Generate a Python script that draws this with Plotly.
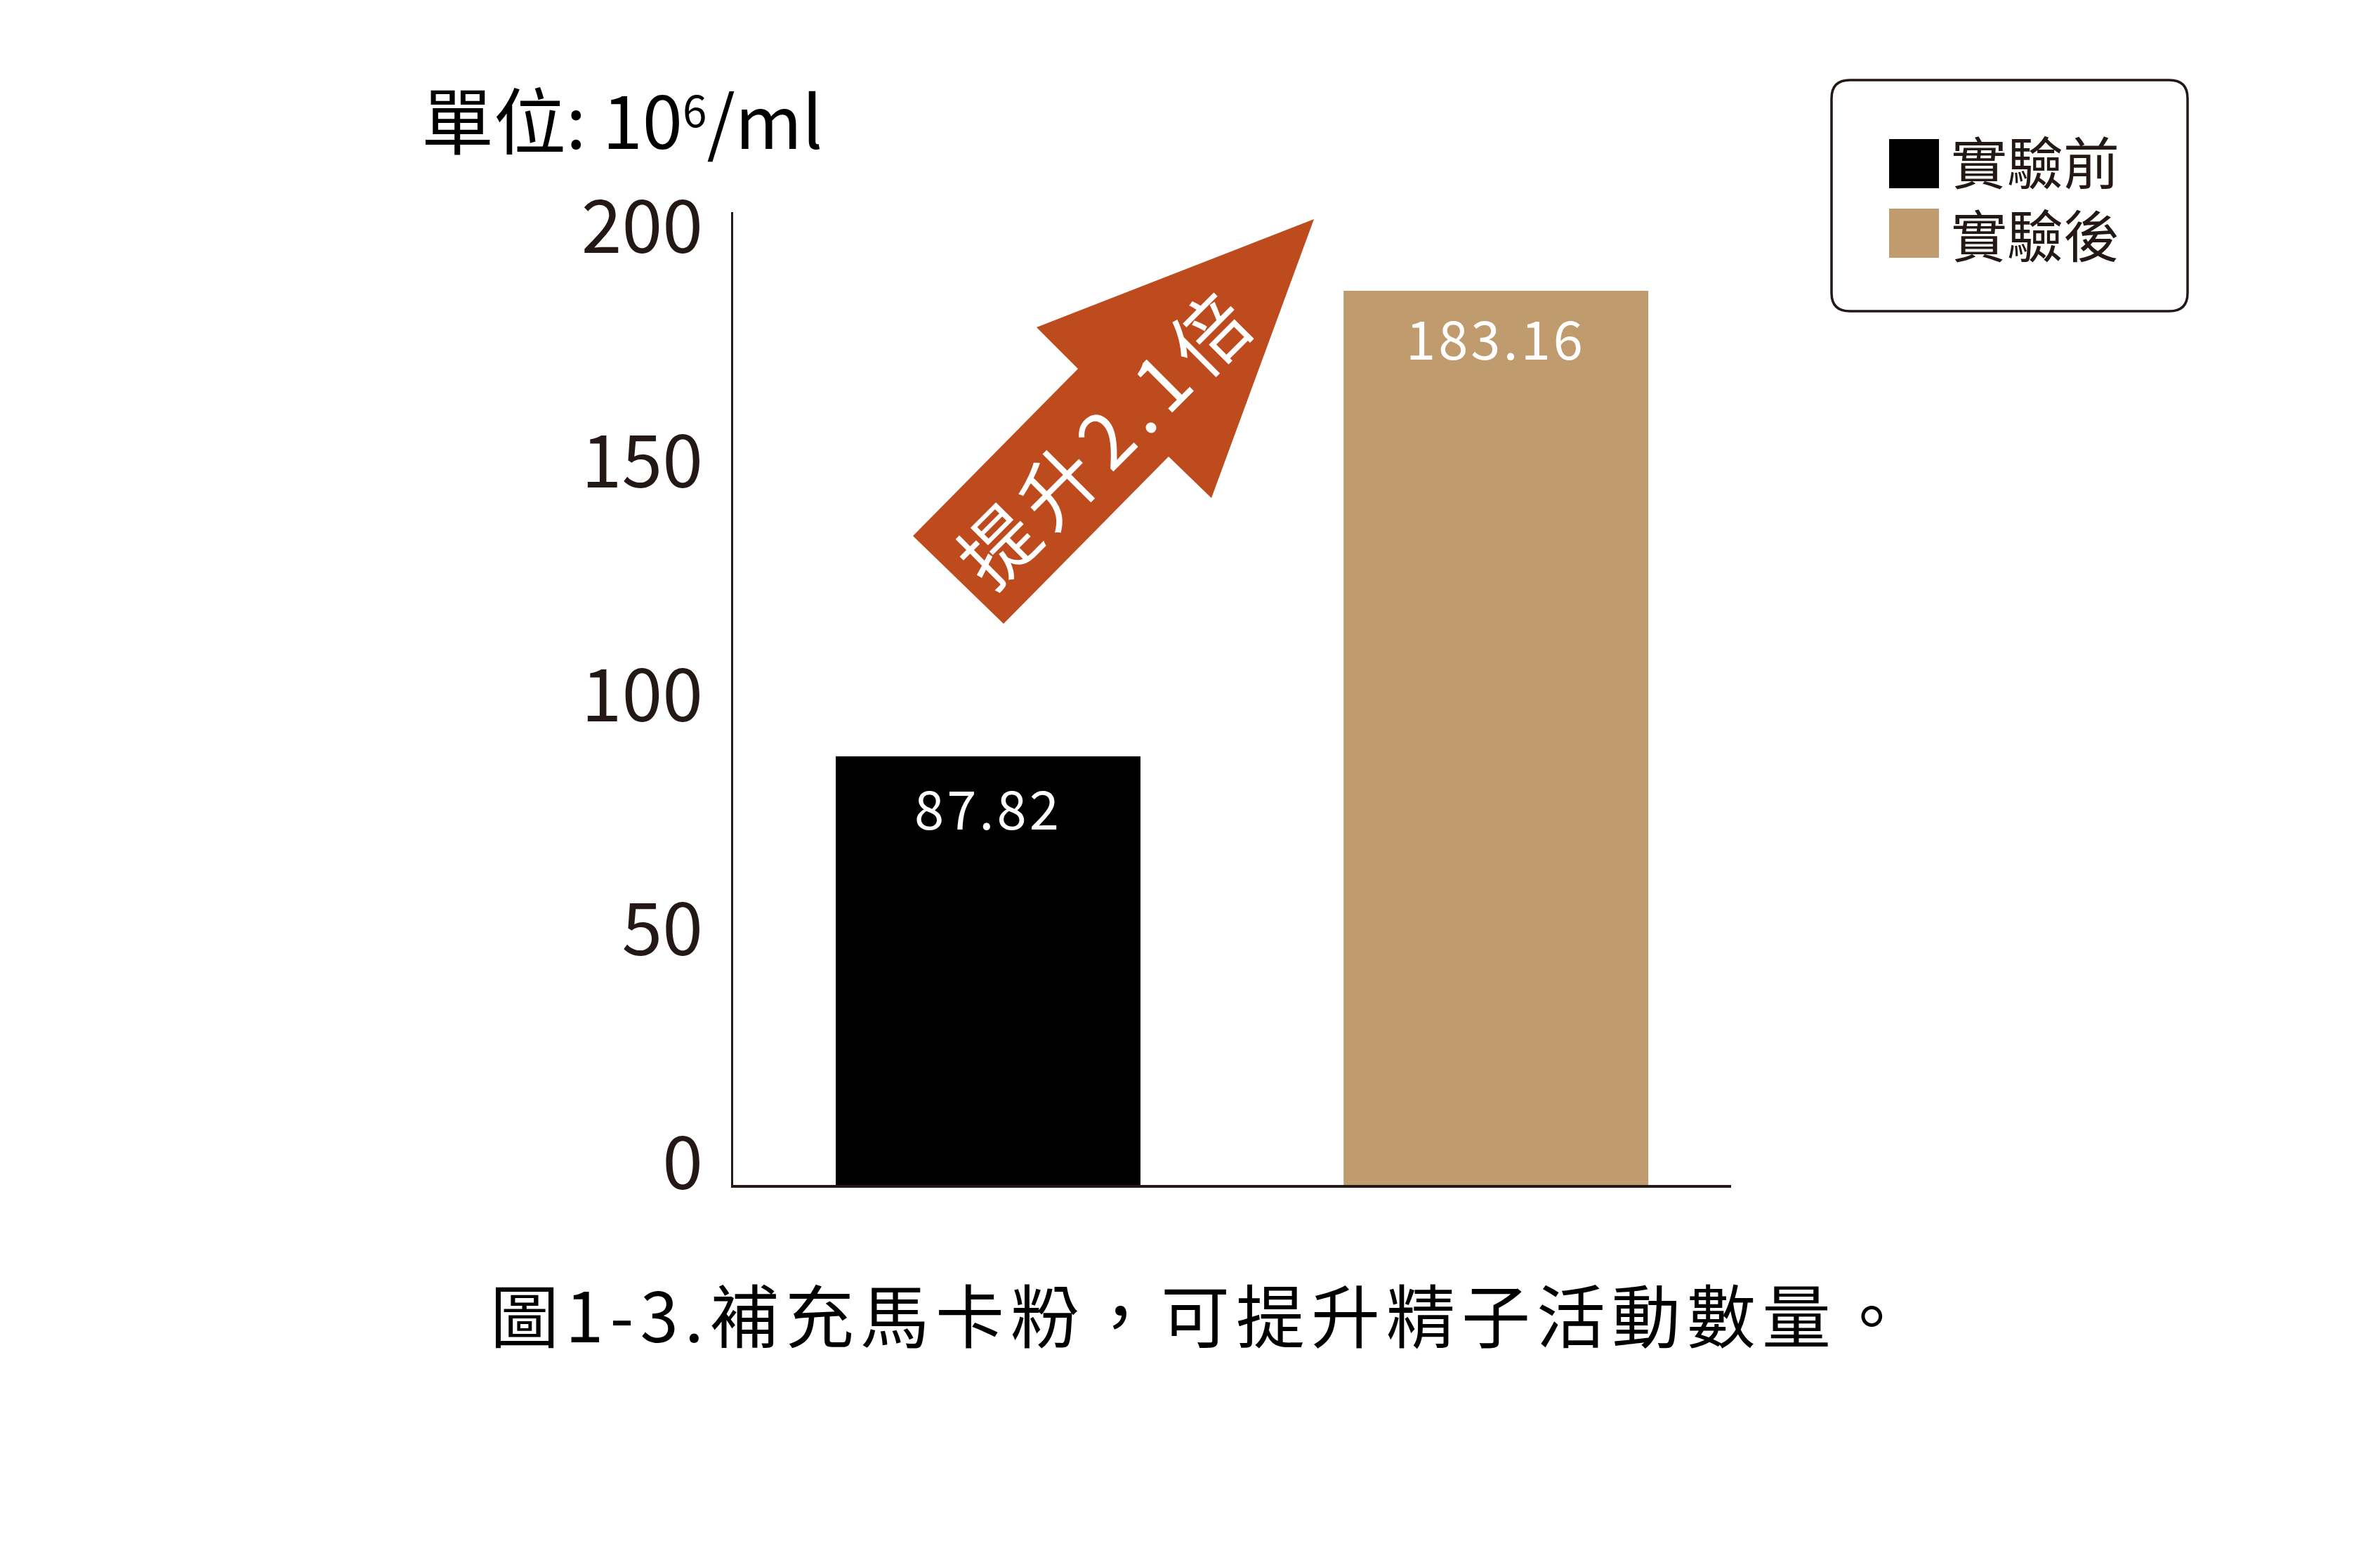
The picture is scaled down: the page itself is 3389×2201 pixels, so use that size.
import plotly.graph_objects as go

# ---- data ----
categories = ["實驗前", "實驗後"]
values = [87.82, 183.16]
bar_colors = ["#000000", "#BF9B6E"]
tick_vals = [0, 50, 100, 150, 200]
tick_text = ["0", "50", "100", "150", "200"]
unit_label = '單位: 10<span style="font-size:62px;baseline-shift:31px">6</span>/ml'
caption = "圖1-3.補充馬卡粉，可提升精子活動數量。"

INK = "#231815"
ARROW = "#BD4B1E"
FONT = "Noto Sans CJK TC"

OFF = 8  # default page body margin
W, H = 3389 - 2 * OFF, 2201 - 2 * OFF
# plot area in reference pixels
L0, R0, T0, B0 = 1044, 2465, 302, 1687
L, R, T, B = L0 - OFF, R0 - OFF, T0 - OFF, B0 - OFF
PW, PH = R - L, B - T


def xp(px):
    return (px - OFF - L) / PW


def yp(py):
    return (B - (py - OFF)) / PH


fig = go.Figure()
fig.add_trace(go.Bar(
    x=categories, y=values, width=0.6,
    marker=dict(color=bar_colors, line=dict(width=0)),
    showlegend=False, hoverinfo="x+y",
))
# carrier for the tick-label axis
fig.add_trace(go.Scatter(
    x=categories, y=values, yaxis="y2", mode="none",
    showlegend=False, hoverinfo="skip",
))

annotations = []
label_shift = [-71, -65]
for c, v, s in zip(categories, values, label_shift):
    annotations.append(dict(
        x=c, y=v, xref="x", yref="y", yshift=s,
        text=f'<span style="letter-spacing:4px">{v:.2f}</span>',
        showarrow=False, xanchor="center", yanchor="middle",
        font=dict(family=FONT, size=76, color="#FFFFFF"),
    ))

# unit label
annotations.append(dict(
    x=xp(598), y=yp(168), xref="paper", yref="paper",
    text=unit_label, showarrow=False, xanchor="left", yanchor="middle",
    font=dict(family=FONT, size=103, color="#000000"),
))

# caption
annotations.append(dict(
    x=xp(1710), y=yp(1868), xref="paper", yref="paper",
    text=f'<span style="letter-spacing:9px">{caption}</span>',
    showarrow=False, xanchor="center", yanchor="middle",
    font=dict(family=FONT, size=98, color="#000000"),
))

# arrow text
ratio = values[1] / values[0]
annotations.append(dict(
    x=xp(1572), y=yp(618), xref="paper", yref="paper",
    text=f'<span style="letter-spacing:12px">提升{ratio:.1f}倍</span>',
    showarrow=False, xanchor="center", yanchor="middle", textangle=-45,
    font=dict(family=FONT, size=108, color="#FFFFFF"),
))

# legend text (one block)
annotations.append(dict(
    x=xp(2776), y=yp(279), xref="paper", yref="paper",
    text="<br>".join(categories), showarrow=False,
    xanchor="left", yanchor="middle", align="left",
    font=dict(family=FONT, size=80, color=INK),
))

shapes = []
arrow_pts = [(1871, 312), (1725, 709), (1664, 650), (1429, 888),
             (1300, 763), (1535, 525), (1476, 466)]
path = "M " + " L ".join(f"{xp(x):.5f},{yp(y):.5f}" for x, y in arrow_pts) + " Z"
shapes.append(dict(type="path", xref="paper", yref="paper", path=path,
                   fillcolor=ARROW, line=dict(width=0), layer="above"))

bx0, by0, bx1, by1, r = 2608, 114, 3115, 443, 26


def P(x, y):
    return f"{xp(x):.5f},{yp(y):.5f}"


box = (f"M {P(bx0 + r, by0)} L {P(bx1 - r, by0)} Q {P(bx1, by0)} {P(bx1, by0 + r)} "
       f"L {P(bx1, by1 - r)} Q {P(bx1, by1)} {P(bx1 - r, by1)} "
       f"L {P(bx0 + r, by1)} Q {P(bx0, by1)} {P(bx0, by1 - r)} "
       f"L {P(bx0, by0 + r)} Q {P(bx0, by0)} {P(bx0 + r, by0)} Z")
shapes.append(dict(type="path", xref="paper", yref="paper", path=box,
                   fillcolor="rgba(0,0,0,0)", line=dict(color=INK, width=3.5)))
leg_y = [233, 332]
for col, cy in zip(bar_colors, leg_y):
    shapes.append(dict(type="rect", xref="paper", yref="paper",
                       x0=xp(2690), x1=xp(2761), y0=yp(cy - 35), y1=yp(cy + 35),
                       fillcolor=col, line=dict(width=0)))

fig.update_layout(
    width=W, height=H, autosize=False,
    margin=dict(l=L, r=W - R, t=T, b=H - B, pad=0),
    paper_bgcolor="#FFFFFF", plot_bgcolor="#FFFFFF",
    xaxis=dict(type="category", range=[-0.502, 1.463], showticklabels=False,
               ticks="", showgrid=False, zeroline=False,
               showline=True, linecolor=INK, linewidth=4),
    yaxis=dict(range=[0, 199.28], showticklabels=False, ticks="",
               showgrid=False, zeroline=False,
               showline=True, linecolor=INK, linewidth=3),
    yaxis2=dict(overlaying="y", side="left", anchor="x",
                range=[-4.50, 203.30], tickmode="array",
                tickvals=tick_vals, ticktext=tick_text,
                ticks="", showgrid=False, zeroline=False, showline=False,
                ticklabelstandoff=42,
                tickfont=dict(family=FONT, size=104, color=INK)),
    annotations=annotations,
    shapes=shapes,
    font=dict(family=FONT),
)

fig.write_html("out.html")
